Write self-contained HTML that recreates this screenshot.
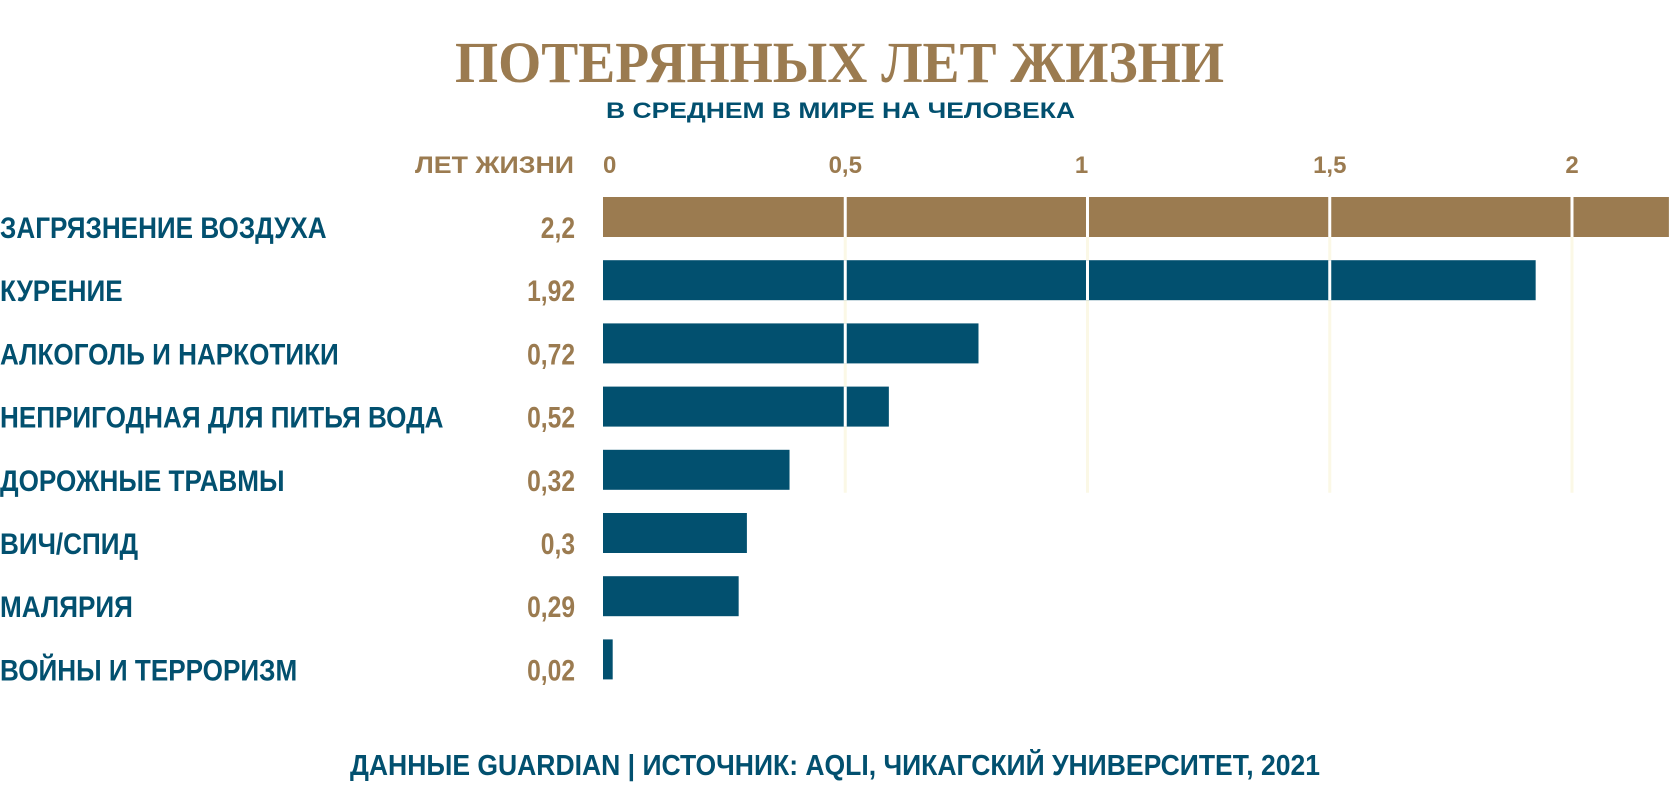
<!DOCTYPE html>
<html><head><meta charset="utf-8"><style>
html,body{margin:0;padding:0;background:#fff;}
svg{display:block;}
text{font-family:"Liberation Sans",sans-serif;font-weight:bold;}
</style></head><body>
<svg id="chart" width="1680" height="811" viewBox="0 0 1680 811" xmlns="http://www.w3.org/2000/svg">
<text x="455" y="82" textLength="769" lengthAdjust="spacingAndGlyphs" style="font-family:'Liberation Serif',serif;font-size:58px;font-weight:bold" fill="#9b7b50">ПОТЕРЯННЫХ ЛЕТ ЖИЗНИ</text>
<text x="606" y="118" textLength="469" lengthAdjust="spacingAndGlyphs" style="font-size:22px" fill="#02506f">В СРЕДНЕМ В МИРЕ НА ЧЕЛОВЕКА</text>
<text x="574" y="173" text-anchor="end" textLength="159" lengthAdjust="spacingAndGlyphs" style="font-size:24px" fill="#9b7b50">ЛЕТ ЖИЗНИ</text>
<g id="grid"></g>
<g id="bars"></g>
<g id="ticks"></g>
<g id="labels"></g>
<text x="350" y="775" textLength="970" lengthAdjust="spacingAndGlyphs" style="font-size:29px" fill="#02506f">ДАННЫЕ GUARDIAN | ИСТОЧНИК: AQLI, ЧИКАГСКИЙ УНИВЕРСИТЕТ, 2021</text>
</svg>
<script>
const categories = ["ЗАГРЯЗНЕНИЕ ВОЗДУХА","КУРЕНИЕ","АЛКОГОЛЬ И НАРКОТИКИ","НЕПРИГОДНАЯ ДЛЯ ПИТЬЯ ВОДА","ДОРОЖНЫЕ ТРАВМЫ","ВИЧ/СПИД","МАЛЯРИЯ","ВОЙНЫ И ТЕРРОРИЗМ"];
const values = [2.2,1.925,0.775,0.59,0.385,0.297,0.28,0.02];
const valueLabels = ["2,2","1,92","0,72","0,52","0,32","0,3","0,29","0,02"];
const tickValues = [0,0.5,1,1.5,2];
const tickLabels = ["0","0,5","1","1,5","2"];

const NS="http://www.w3.org/2000/svg";
const x0=603, pxPerUnit=484.5, barTop0=197, pitch=63.2, barH=40;
const xs=v=>x0+v*pxPerUnit;
const ys=i=>barTop0+i*pitch;
function mk(tag,attrs,parent){const e=document.createElementNS(NS,tag);for(const k in attrs)e.setAttribute(k,attrs[k]);parent.appendChild(e);return e;}
const grid=document.getElementById('grid'),bars=document.getElementById('bars'),ticks=document.getElementById('ticks'),labels=document.getElementById('labels');

tickValues.forEach((t,i)=>{
  if(t>0){
    const g=mk('line',{x1:xs(t),x2:xs(t),y1:ys(0),y2:ys(4)+barH+3,stroke:'#fbf8e6','stroke-width':3},grid);
    
    
  }
  const tl=mk('text',{x:t===0?xs(t):xs(t)-(t===1?6:0),y:173,'text-anchor':t===0?'start':'middle',fill:'#9b7b50','font-size':24},ticks);
  tl.textContent=tickLabels[i];
  
  
});

values.forEach((v,i)=>{
  const r=mk('rect',{x:x0,y:ys(i),width:xs(v)-x0,height:barH,fill:i===0?'#9b7b50':'#02506f'},bars);
  
  
  tickValues.forEach(t=>{
    if(t>0 && t<v){
      const l=mk('line',{x1:xs(t),x2:xs(t),y1:ys(i),y2:ys(i)+barH,stroke:'#ffffff','stroke-width':3},bars);
      
      
    }
  });
  const c=mk('text',{x:0,y:ys(i)+barH+1,fill:'#02506f','font-size':30,transform:'scale(0.87,1)'},labels);
  c.textContent=categories[i];
  
  
  const vl=mk('text',{x:575/0.82,y:ys(i)+barH+1,fill:'#9b7b50','font-size':30,'text-anchor':'end',transform:'scale(0.82,1)'},labels);
  vl.textContent=valueLabels[i];
  
  
});
</script>
</body></html>
